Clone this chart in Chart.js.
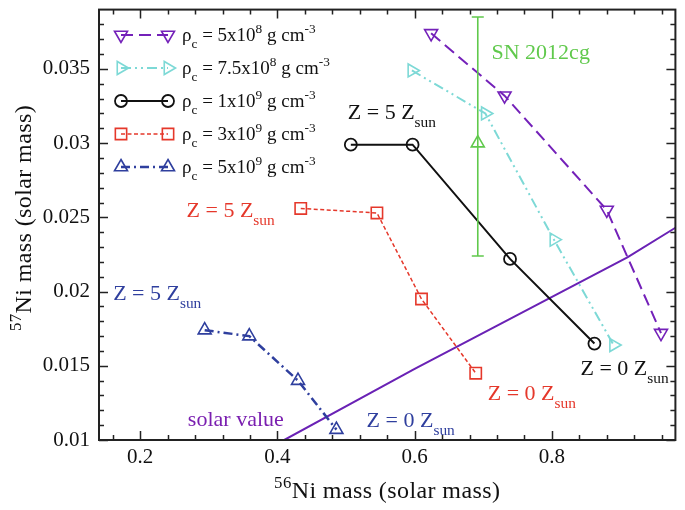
<!DOCTYPE html>
<html>
<head>
<meta charset="utf-8">
<script src="https://cdn.jsdelivr.net/npm/chart.js@4/dist/chart.umd.min.js"></script>
<style>
  html, body { margin: 0; padding: 0; background: #fff; }
</style>
</head>
<body>
<canvas id="myChart" width="685" height="510"></canvas>
<script>
// 56Ni mass (x) vs 57Ni mass (y), solar masses, one pair per central density
var rho5e8X  = [0.624, 0.731, 0.880, 0.959];
var rho5e8Y  = [0.0374, 0.0332, 0.0255, 0.0172];
var rho75e8X = [0.596, 0.703, 0.803, 0.890];
var rho75e8Y = [0.0349, 0.0320, 0.0235, 0.0164];
var rho1e9X  = [0.507, 0.597, 0.739, 0.862];
var rho1e9Y  = [0.0299, 0.0299, 0.0222, 0.0165];
var rho3e9X  = [0.434, 0.545, 0.610, 0.689];
var rho3e9Y  = [0.0256, 0.0253, 0.0195, 0.0145];
var rho5e9X  = [0.294, 0.359, 0.430, 0.486];
var rho5e9Y  = [0.0174, 0.0170, 0.0140, 0.0107];
var solarX   = [0.41, 0.60, 0.91, 0.98];
var solarY   = [0.0100, 0.0148, 0.0223, 0.0243];
// SN 2012cg observation with error bar
var snX    = [0.692];
var snY    = [0.0300];
var snLow  = [0.0224];
var snHigh = [0.0385];

var xTickLabels = ['0.2', '0.4', '0.6', '0.8'];
var yTickLabels = ['0.01', '0.015', '0.02', '0.025', '0.03', '0.035'];

var FONT = '"Liberation Serif", "Times New Roman", serif';

function pts(xs, ys) {
    return xs.map(function(x, i) { return {x: x, y: ys[i]}; });
}

var purple = '#7421b9', cyan = '#7dd9d6', red = '#e5382b', blue = '#2f3f9e', green = '#60c94c';

var datasets = [
    {label: 'rho5e8', data: pts(rho5e8X, rho5e8Y), borderColor: purple, borderWidth: 2, borderDash: [12, 6],
     pointStyle: 'triangle', rotation: 180, pointRadius: 7.5, pointBorderWidth: 1.6},
    {label: 'rho7.5e8', data: pts(rho75e8X, rho75e8Y), borderColor: cyan, borderWidth: 2, borderDash: [10, 4, 2, 4, 2, 4],
     pointStyle: 'triangle', rotation: 90, pointRadius: 7.5, pointBorderWidth: 1.6},
    {label: 'rho1e9', data: pts(rho1e9X, rho1e9Y), borderColor: '#111', borderWidth: 2,
     pointStyle: 'circle', pointRadius: 6, pointBorderWidth: 1.8},
    {label: 'rho3e9', data: pts(rho3e9X, rho3e9Y), borderColor: red, borderWidth: 1.5, borderDash: [4, 2.5],
     pointStyle: 'rect', pointRadius: 8, pointBorderWidth: 1.6},
    {label: 'rho5e9', data: pts(rho5e9X, rho5e9Y), borderColor: blue, borderWidth: 2.5, borderDash: [9, 4, 2, 4],
     pointStyle: 'triangle', rotation: 0, pointRadius: 7.5, pointBorderWidth: 1.6},
    {label: 'solar', data: pts(solarX, solarY), borderColor: '#6a22b5', borderWidth: 2, pointRadius: 0},
    {label: 'SN 2012cg', data: pts(snX, snY), borderColor: green, showLine: false,
     pointStyle: 'triangle', pointRadius: 7.5, pointBorderWidth: 1.6}
];
datasets.forEach(function(d) {
    d.backgroundColor = 'rgba(0,0,0,0)';
    d.pointBackgroundColor = 'rgba(0,0,0,0)';
    d.pointBorderColor = d.borderColor;
    if (d.showLine === undefined) d.showLine = true;
    d.tension = 0;
});

var legendTexts = [
    [{t: 'ρ'}, {t: 'c', sub: 1}, {t: ' = 5x10'}, {t: '8', sup: 1}, {t: ' g cm'}, {t: '-3', sup: 1}],
    [{t: 'ρ'}, {t: 'c', sub: 1}, {t: ' = 7.5x10'}, {t: '8', sup: 1}, {t: ' g cm'}, {t: '-3', sup: 1}],
    [{t: 'ρ'}, {t: 'c', sub: 1}, {t: ' = 1x10'}, {t: '9', sup: 1}, {t: ' g cm'}, {t: '-3', sup: 1}],
    [{t: 'ρ'}, {t: 'c', sub: 1}, {t: ' = 3x10'}, {t: '9', sup: 1}, {t: ' g cm'}, {t: '-3', sup: 1}],
    [{t: 'ρ'}, {t: 'c', sub: 1}, {t: ' = 5x10'}, {t: '9', sup: 1}, {t: ' g cm'}, {t: '-3', sup: 1}]
];

// text labels placed in data coordinates (x = left edge, y = baseline)
var notes = [
    {x: 0.712, y: 0.03565, color: green, parts: [{t: 'SN 2012cg'}]},
    {x: 0.5026, y: 0.0316, color: '#111', parts: [{t: 'Z = 5 Z'}, {t: 'sun', sub: 1}]},
    {x: 0.2676, y: 0.0250, color: red, parts: [{t: 'Z = 5 Z'}, {t: 'sun', sub: 1}]},
    {x: 0.1606, y: 0.01943, color: blue, parts: [{t: 'Z = 5 Z'}, {t: 'sun', sub: 1}]},
    {x: 0.8417, y: 0.01436, color: '#111', parts: [{t: 'Z = 0 Z'}, {t: 'sun', sub: 1}]},
    {x: 0.7065, y: 0.01269, color: red, parts: [{t: 'Z = 0 Z'}, {t: 'sun', sub: 1}]},
    {x: 0.53, y: 0.01088, color: blue, parts: [{t: 'Z = 0 Z'}, {t: 'sun', sub: 1}]},
    {x: 0.2695, y: 0.01094, color: '#7a1fb0', parts: [{t: 'solar value'}]}
];

function richText(ctx, x, y, parts, size, color, measureOnly, spacing) {
    var x0 = x;
    ctx.save();
    ctx.fillStyle = color;
    ctx.textAlign = 'left';
    ctx.textBaseline = 'alphabetic';
    ctx.letterSpacing = (spacing || 0) + 'px';
    parts.forEach(function(p) {
        var s = (p.sub || p.sup) ? size * 0.7 : size;
        var dy = p.sub ? size * 0.36 : (p.sup ? -size * 0.42 : 0);
        ctx.font = s + 'px ' + FONT;
        if (!measureOnly) ctx.fillText(p.t, x, y + dy);
        x += ctx.measureText(p.t).width;
    });
    ctx.restore();
    return x - x0;
}

var decorations = {
    id: 'decorations',
    afterDatasetsDraw: function(chart) {
        var ctx = chart.ctx, xs = chart.scales.x, ys = chart.scales.y;
        // error bar for SN 2012cg
        ctx.save();
        ctx.strokeStyle = green;
        ctx.lineWidth = 1.6;
        snX.forEach(function(v, i) {
            var px = xs.getPixelForValue(v);
            var lo = ys.getPixelForValue(snLow[i]), hi = ys.getPixelForValue(snHigh[i]);
            ctx.beginPath();
            ctx.moveTo(px, lo); ctx.lineTo(px, hi);
            ctx.moveTo(px - 6, lo); ctx.lineTo(px + 6, lo);
            ctx.moveTo(px - 6, hi); ctx.lineTo(px + 6, hi);
            ctx.stroke();
        });
        ctx.restore();
    },
    afterDraw: function(chart) {
        var ctx = chart.ctx, a = chart.chartArea, xs = chart.scales.x, ys = chart.scales.y;
        ctx.save();
        // inward ticks on all four sides
        ctx.strokeStyle = '#222';
        ctx.lineWidth = 1.5;
        ctx.beginPath();
        for (var k = 4; k <= 24; k++) {
            var v = k * 0.04, px = Math.round(xs.getPixelForValue(v)) + 0.5;
            var len = (k % 5 === 0) ? 9 : 5;
            ctx.moveTo(px, a.bottom); ctx.lineTo(px, a.bottom - len);
            ctx.moveTo(px, a.top); ctx.lineTo(px, a.top + len);
        }
        for (var j = 10; j <= 38; j++) {
            var py = Math.round(ys.getPixelForValue(j / 1000)) + 0.5;
            var l2 = (j % 5 === 0) ? 9 : 5;
            ctx.moveTo(a.left, py); ctx.lineTo(a.left + l2, py);
            ctx.moveTo(a.right, py); ctx.lineTo(a.right - l2, py);
        }
        ctx.stroke();
        ctx.lineWidth = 2;
        ctx.strokeRect(a.left, a.top, a.right - a.left, a.bottom - a.top);
        ctx.restore();

        // legend
        var sets = chart.data.datasets;
        legendTexts.forEach(function(parts, i) {
            var d = sets[i], y = 35 + i * 33;
            ctx.save();
            ctx.strokeStyle = d.borderColor;
            ctx.lineWidth = d.borderWidth;
            ctx.setLineDash(d.borderDash || []);
            ctx.beginPath();
            ctx.moveTo(121, y); ctx.lineTo(168, y);
            ctx.stroke();
            ctx.setLineDash([]);
            ctx.fillStyle = 'rgba(0,0,0,0)';
            var opt = {pointStyle: d.pointStyle, rotation: d.rotation || 0, radius: d.pointRadius, borderWidth: d.pointBorderWidth};
            ctx.lineWidth = d.pointBorderWidth;
            Chart.helpers.drawPoint(ctx, opt, 121, y);
            Chart.helpers.drawPoint(ctx, opt, 168, y);
            ctx.restore();
            richText(ctx, 182, y + 6, parts, 19, '#111');
        });

        // annotations
        notes.forEach(function(n) {
            richText(ctx, xs.getPixelForValue(n.x), ys.getPixelForValue(n.y), n.parts, 22, n.color);
        });

        // axis titles
        var xt = [{t: '56', sup: 1}, {t: 'Ni mass (solar mass)'}];
        var w = richText(ctx, 0, 0, xt, 24, '#111', true, 0.4);
        richText(ctx, (a.left + a.right) / 2 - w / 2, 498, xt, 24, '#111', false, 0.4);
        var yt = [{t: '57', sup: 1}, {t: 'Ni mass (solar mass)'}];
        var wy = richText(ctx, 0, 0, yt, 24, '#111', true, 0.4);
        ctx.save();
        ctx.translate(31, 218);
        ctx.rotate(-Math.PI / 2);
        richText(ctx, -wy / 2, 0, yt, 24, '#111', false, 0.4);
        ctx.restore();
    }
};

document.addEventListener('DOMContentLoaded', function() {
    var ctx = document.getElementById('myChart').getContext('2d');
    var myChart = new Chart(ctx, {
        type: 'scatter',
        data: {datasets: datasets},
        options: {
            responsive: false,
            animation: false,
            devicePixelRatio: 1,
            layout: {padding: {top: 1, right: 2, left: 0, bottom: 0}},
            plugins: {legend: {display: false}, tooltip: {enabled: false}},
            scales: {
                x: {
                    type: 'linear', min: 0.14, max: 0.98,
                    grid: {display: false, drawTicks: false, tickLength: 0},
                    border: {display: false},
                    afterBuildTicks: function(s) {
                        s.ticks = xTickLabels.map(function(t) { return {value: parseFloat(t)}; });
                    },
                    afterFit: function(s) { s.height = 70; s.paddingLeft = 0; s.paddingRight = 0; },
                    ticks: {
                        autoSkip: false, maxRotation: 0, padding: 5, color: '#111',
                        font: {family: FONT, size: 21},
                        callback: function(v, i) { return xTickLabels[i]; }
                    }
                },
                y: {
                    type: 'linear', min: 0.01, max: 0.039,
                    grid: {display: false, drawTicks: false, tickLength: 0},
                    border: {display: false},
                    afterBuildTicks: function(s) {
                        s.ticks = yTickLabels.map(function(t) { return {value: parseFloat(t)}; });
                    },
                    afterFit: function(s) { s.width = 99; s.paddingTop = 0; s.paddingBottom = 0; },
                    ticks: {
                        autoSkip: false, padding: 9, color: '#111',
                        font: {family: FONT, size: 21},
                        callback: function(v, i) { return yTickLabels[i]; }
                    }
                }
            }
        },
        plugins: [decorations]
    });
});
</script>
</body>
</html>
